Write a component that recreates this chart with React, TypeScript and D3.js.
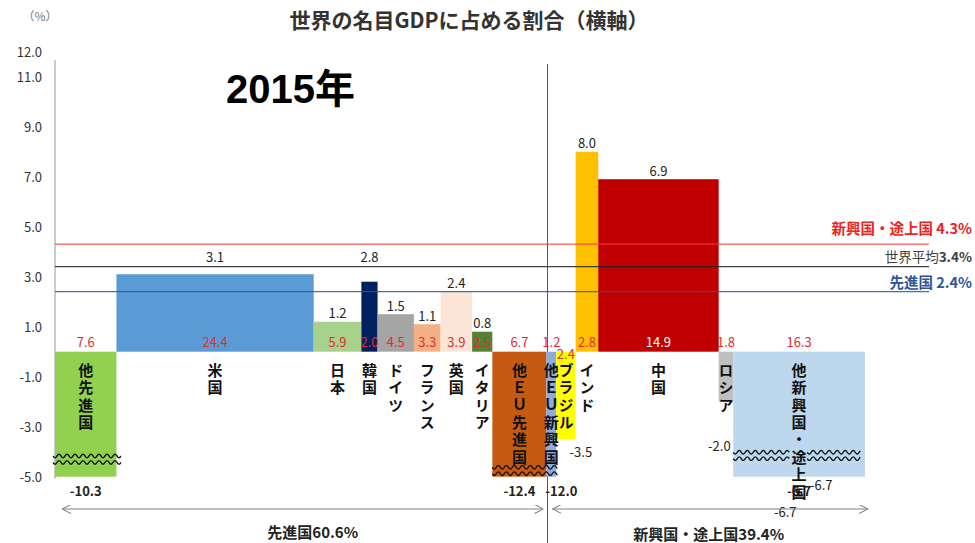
import React from 'react';
import * as d3 from 'd3';

// 2015年: 世界の名目GDPに占める割合（横軸） x 成長率（縦軸）
const categories = ['他先進国', '米国', '日本', '韓国', 'ドイツ', 'フランス', '英国', 'イタリア', '他ＥＵ先進国', '他ＥＵ新興国', 'ブラジル', 'インド', '中国', 'ロシア', '他新興国・途上国'];
const shares = [7.6, 24.4, 5.9, 2.0, 4.5, 3.3, 3.9, 2.5, 6.7, 1.2, 2.4, 2.8, 14.9, 1.8, 16.3];
const growth = [-10.3, 3.1, 1.2, 2.8, 1.5, 1.1, 2.4, 0.8, -12.4, -12.0, -3.5, 8.0, 6.9, -2.0, -6.7];
const palette = ['#92d050', '#5b9bd5', '#a9d18e', '#002060', '#a5a5a5', '#f4b183', '#fbe5d6', '#548235', '#c55a11', '#8faadc', '#ffff00', '#ffc000', '#c00000', '#bfbfbf', '#bdd7ee'];

const yTicks = [12, 11, 9, 7, 5, 3, 1, -1, -3, -5];

const refNames = ['新興国・途上国', '世界平均', '先進国'];
const refValues = [4.3, 3.4, 2.4];
const refColors = ['#ff3b3b', '#222222', '#2f5597'];

const groupNames = ['先進国', '新興国・途上国'];
const groupShares = [60.6, 39.4];
const developedCount = 9;

const W = 975;
const H = 543;
const FONT = '"Noto Sans CJK JP", "Noto Sans", sans-serif';

export default function App() {
  const total = d3.sum(shares);
  const x = d3.scaleLinear().domain([0, total]).range([55, 865]);
  const y = d3.scaleLinear().domain([-5, 12]).range([476.7, 51.7]);
  const floor = -5;

  const starts = d3.cumsum([0, ...shares]);
  const bars = categories.map((name, i) => ({
    name,
    share: shares[i],
    value: growth[i],
    x0: x(starts[i]),
    x1: x(starts[i + 1]),
    color: palette[i],
  }));
  const boundary = x(starts[developedCount]);

  // wavy "break" marks for truncated bars
  const wave = (x0: number, x1: number, yc: number) => {
    const pts: [number, number][] = d3.range(x0, x1 + 0.01, 1).map(px => [px, yc + 2 * Math.sin((px - x0) / 8 * 2 * Math.PI)]);
    return d3.line().curve(d3.curveBasis)(pts) || '';
  };
  const breaks: [number, number, number][] = [
    [bars[0].x0 - 2, bars[0].x1 + 5, y(-4.3)],
    [bars[8].x0, bars[9].x1 + 2, y(-4.75)],
    [bars[14].x0, bars[14].x0 + 56, y(-4.15)],
    [bars[14].x0 + 74, bars[14].x1 - 4, y(-4.15)],
  ];

  const valueLabel = (b: typeof bars[0]) => {
    const cx = (b.x0 + b.x1) / 2;
    if (b.value >= 0) {
      const top = y(b.value);
      let ly = top - 9;
      if (b.value > 2.6 && b.value < 3.4) ly = y(3.4) - 10;
      return { x: cx, y: ly, anchor: 'middle' };
    }
    if (b.value < floor) {
      const dx = b.name === '他ＥＵ新興国' ? 10 : 0;
      return { x: cx + dx, y: y(floor) + 14, anchor: 'middle' };
    }
    if (b.name === 'ロシア') return { x: b.x0 + 12, y: y(-3.75), anchor: 'end' };
    return { x: b.x1 - 6, y: y(b.value) + 12, anchor: 'start' };
  };

  const arrowY = 509;

  return (
    <svg width={W} height={H} style={{ position: 'absolute', left: 0, top: 0, background: '#fff' }} fontFamily={FONT}>
      <defs>
        <marker id="arr" viewBox="0 0 10 10" refX="10" refY="5" markerWidth="9" markerHeight="9" orient="auto-start-reverse" markerUnits="userSpaceOnUse">
          <path d="M0,0 L10,5 L0,10" fill="none" stroke="#808080" strokeWidth={1.2} />
        </marker>
      </defs>

      {/* titles */}
      <text x={40} y={21} textAnchor="middle" fontSize={12} fill="#777">（%）</text>
      <text x={469} y={28} textAnchor="middle" fontSize={21} fontWeight="bold" fill="#333">世界の名目GDPに占める割合（横軸）</text>
      <text x={226} y={103} fontSize={40} fontWeight="bold" fill="#000" fontFamily='"Liberation Sans", Arial, sans-serif'>2015<tspan fontFamily={FONT}>年</tspan></text>

      {/* y axis */}
      <line x1={55} x2={55} y1={60} y2={y(floor) + 2} stroke="#999" strokeWidth={1} />
      {yTicks.map(t => (
        <text key={t} x={42} y={y(t)} textAnchor="end" dominantBaseline="central" fontSize={13} fill="#333">{t.toFixed(1)}</text>
      ))}

      {/* divider */}
      <line x1={boundary + 1} x2={boundary + 1} y1={64} y2={H} stroke="#555" strokeWidth={1} />

      {/* bars */}
      {bars.map(b => {
        const v = Math.max(b.value, floor);
        return (
          <rect key={b.name} x={b.x0} width={b.x1 - b.x0} y={Math.min(y(v), y(0))} height={Math.abs(y(v) - y(0))} fill={b.color} />
        );
      })}

      {/* break marks */}
      {breaks.map(([a, c, yc], i) => (
        <g key={i} fill="none" stroke="#111" strokeWidth={1.3}>
          <path d={wave(a, c, yc - 3.2)} />
          <path d={wave(a, c, yc + 3.2)} />
        </g>
      ))}

      {/* reference lines */}
      {refValues.map((v, i) => (
        <line key={i} x1={55} x2={929} y1={y(v)} y2={y(v)} stroke={refColors[i]} strokeWidth={1.2} opacity={0.85} />
      ))}
      <text x={972} y={y(4.3) - 17} textAnchor="end" dominantBaseline="central" fontSize={14.5} fontWeight="bold" fill="#ee2222">{refNames[0]} {refValues[0]}%</text>
      <text x={972} y={y(3.4) - 11} textAnchor="end" dominantBaseline="central" fontSize={13.5} fill="#404040">{refNames[1]}<tspan fontWeight="bold">{refValues[1]}%</tspan></text>
      <text x={972} y={y(2.4) - 10} textAnchor="end" dominantBaseline="central" fontSize={14.5} fontWeight="bold" fill="#2f5597">{refNames[2]} {refValues[2]}%</text>

      {/* growth value labels */}
      {bars.map(b => {
        const p = valueLabel(b);
        return (
          <text key={b.name} x={p.x} y={p.y} textAnchor={p.anchor as any} dominantBaseline="central" fontSize={13} fill="#222" fontWeight={b.value < floor ? 'bold' : 'normal'}>{b.value.toFixed(1)}</text>
        );
      })}
      <text x={bars[14].x0 + 52} y={arrowY + 2} textAnchor="middle" dominantBaseline="central" fontSize={13} fill="#222">{growth[14].toFixed(1)}</text>
      <text x={bars[14].x0 + 88} y={y(floor) + 8} textAnchor="middle" dominantBaseline="central" fontSize={13} fill="#222">{growth[14].toFixed(1)}</text>

      {/* share labels */}
      {bars.map(b => {
        const cx = (b.x0 + b.x1) / 2;
        const below = b.name === 'ブラジル';
        return (
          <text key={b.name} x={cx} y={below ? y(0) + 2 : y(0) - 10} textAnchor="middle" dominantBaseline="central" fontSize={13} fill={b.name === '中国' ? '#fff' : '#e52a2a'}>{b.share.toFixed(1)}</text>
        );
      })}

      {/* category labels (vertical) */}
      {bars.map(b => {
        const cx = (b.x0 + b.x1) / 2;
        return (
          <text key={b.name} x={cx} y={y(0) + 11} fontSize={15} fontWeight="bold" fill="#111" letterSpacing={2.4}
            style={{ writingMode: 'vertical-rl', textOrientation: 'upright' } as any}>{b.name}</text>
        );
      })}

      {/* group arrows */}
      <line x1={x(0) + 7} x2={boundary - 3} y1={arrowY} y2={arrowY} stroke="#808080" strokeWidth={1} markerStart="url(#arr)" markerEnd="url(#arr)" />
      <line x1={boundary + 6} x2={x(total) + 3} y1={arrowY} y2={arrowY} stroke="#808080" strokeWidth={1} markerStart="url(#arr)" markerEnd="url(#arr)" />
      <text x={(x(0) + boundary) / 2 + 12} y={531} textAnchor="middle" dominantBaseline="central" fontSize={15} fontWeight="bold" fill="#222">{groupNames[0]}{groupShares[0]}%</text>
      <text x={(boundary + x(total)) / 2 + 3} y={533} textAnchor="middle" dominantBaseline="central" fontSize={15} fontWeight="bold" fill="#222">{groupNames[1]}{groupShares[1]}%</text>
    </svg>
  );
}
